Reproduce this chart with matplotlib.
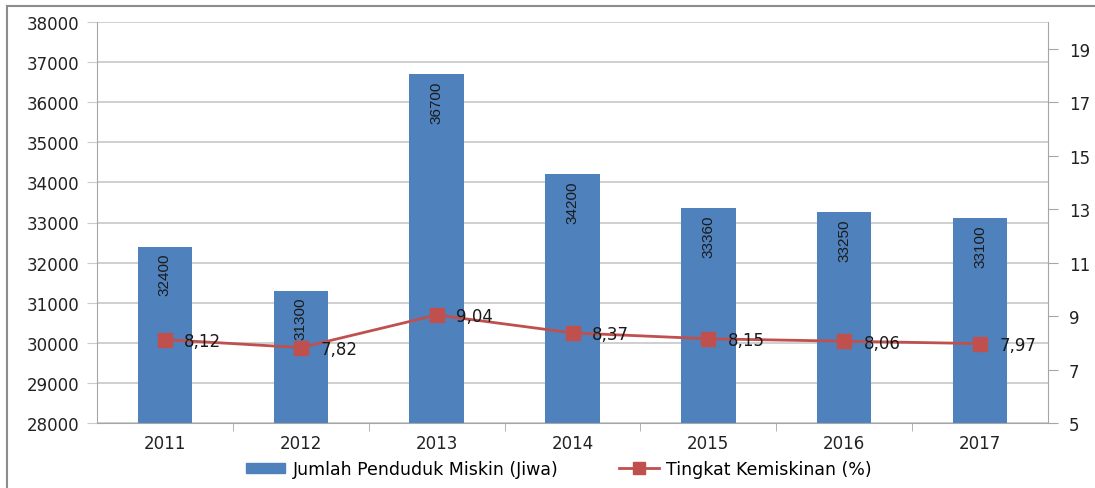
import matplotlib.pyplot as plt
from matplotlib.lines import Line2D
from matplotlib.patches import Patch

years = ['2011', '2012', '2013', '2014', '2015', '2016', '2017']
penduduk = [32400, 31300, 36700, 34200, 33360, 33250, 33100]
tingkat = [8.12, 7.82, 9.04, 8.37, 8.15, 8.06, 7.97]
tingkat_lbl = ['8,12', '7,82', '9,04', '8,37', '8,15', '8,06', '7,97']

bar_col = '#4F81BD'
line_col = '#C0504D'
axis_col = '#A6A6A6'

plt.rcParams['font.family'] = ['DejaVu Sans']

fig = plt.figure(figsize=(10.95, 4.89), dpi=100)
ax = fig.add_axes([97 / 1095, 1 - 424 / 489, (1048 - 97) / 1095, (424 - 23) / 489])

x = list(range(len(years)))
ax.bar(x, penduduk, width=0.4, color=bar_col, zorder=2)
ax.set_ylim(28000, 38000)
ax.set_xlim(-0.5, len(years) - 0.5)
ax.set_yticks(range(28000, 38001, 1000))
ax.yaxis.grid(True, color='#CBCBCB', linewidth=1.3, zorder=0)
ax.set_axisbelow(True)
ax.set_xticks(x)
ax.set_xticklabels(years)
ax.set_xticks([i + 0.5 for i in x[:-1]], minor=True)
ax.tick_params(axis='x', which='major', length=0, pad=8, labelsize=12, colors='#222222')
ax.tick_params(axis='x', which='minor', length=6, color=axis_col, direction='out')
ax.tick_params(axis='y', length=7, color='#CBCBCB', labelsize=12, labelcolor='#222222', pad=6)
for s in ['top', 'right']:
    ax.spines[s].set_visible(False)
ax.spines['left'].set_color(axis_col)
ax.spines['bottom'].set_color(axis_col)

for xi, v in zip(x, penduduk):
    ax.text(xi, v - 150, str(v), rotation=90, ha='center', va='top',
            fontsize=11, color='#1a1a1a', family=['Liberation Sans Narrow', 'Liberation Sans'], zorder=3)

ax2 = ax.twinx()
ax2.plot(x, tingkat, color=line_col, linewidth=2, marker='s', markersize=10.5, zorder=4)
ax2.set_ylim(5, 20)
ax2.set_yticks(range(5, 20, 2))
ax2.tick_params(axis='y', length=7, color=axis_col, labelsize=12, labelcolor='#222222', pad=8)
for s in ['top', 'left', 'bottom']:
    ax2.spines[s].set_visible(False)
ax2.spines['right'].set_color(axis_col)
for xi, v, lbl in zip(x, tingkat, tingkat_lbl):
    ax2.annotate(lbl, (xi, v), xytext=(14, -1), textcoords='offset points',
                 ha='left', va='center', fontsize=12, color='#1a1a1a', zorder=5)

handles = [Patch(color=bar_col),
           Line2D([0], [0], color=line_col, linewidth=2, marker='s', markersize=9)]
labels = ['Jumlah Penduduk Miskin (Jiwa)', 'Tingkat Kemiskinan (%)']
fig.legend(handles, labels, loc='center', bbox_to_anchor=(0.51, 1 - 470 / 489), ncol=2,
           frameon=False, fontsize=12.5, handlelength=2.3, handleheight=0.5,
           handletextpad=0.4, columnspacing=3.5)

# outer frame
fig.add_artist(Line2D([7 / 1095, 7 / 1095], [0, 1 - 7 / 489], color='#8C8C8C', linewidth=1.5,
                      transform=fig.transFigure))
fig.add_artist(Line2D([7 / 1095, 1], [1 - 7 / 489, 1 - 7 / 489], color='#8C8C8C', linewidth=1.5,
                      transform=fig.transFigure))

fig.savefig('out.png', dpi=100)
